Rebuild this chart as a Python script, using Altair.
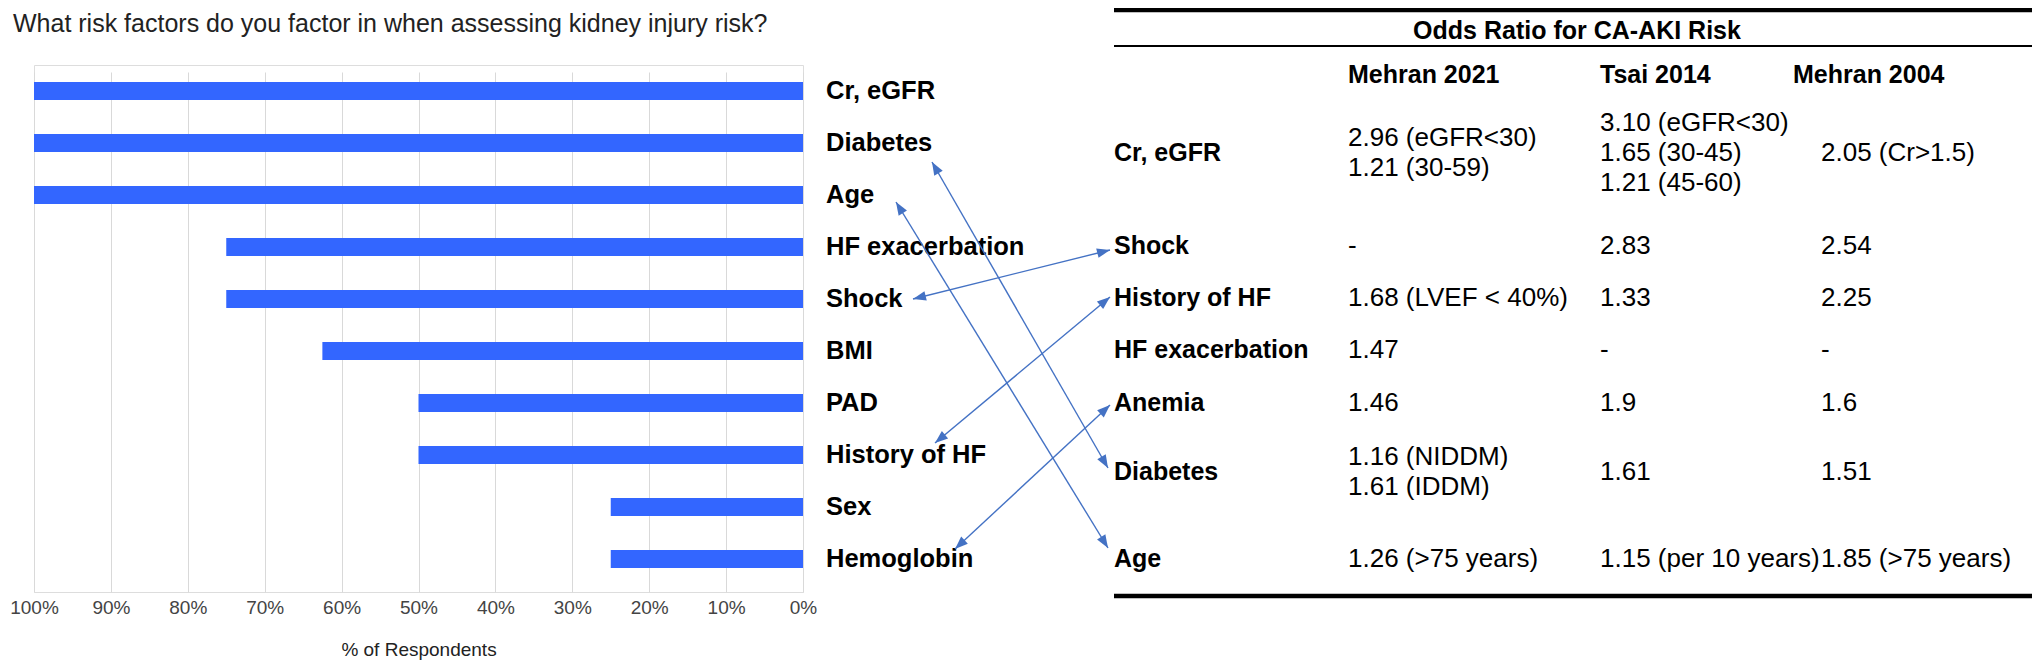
import math
import altair as alt
import pandas as pd

# ---------------- data ----------------
question = "What risk factors do you factor in when assessing kidney injury risk?"
factors = ["Cr, eGFR", "Diabetes", "Age", "HF exacerbation", "Shock", "BMI",
           "PAD", "History of HF", "Sex", "Hemoglobin"]
pct_respondents = [100, 100, 100, 75, 75, 62.5, 50, 50, 25, 25]
x_ticks = [0, 10, 20, 30, 40, 50, 60, 70, 80, 90, 100]
x_title = "% of Respondents"

table_title = "Odds Ratio for CA-AKI Risk"
studies = ["Mehran 2021", "Tsai 2014", "Mehran 2004"]
table_rows = ["Cr, eGFR", "Shock", "History of HF", "HF exacerbation", "Anemia", "Diabetes", "Age"]
mehran_2021 = ["2.96 (eGFR<30)\n1.21 (30-59)", "-", "1.68 (LVEF < 40%)", "1.47", "1.46",
               "1.16 (NIDDM)\n1.61 (IDDM)", "1.26 (>75 years)"]
tsai_2014 = ["3.10 (eGFR<30)\n1.65 (30-45)\n1.21 (45-60)", "2.83", "1.33", "-", "1.9",
             "1.61", "1.15 (per 10 years)"]
mehran_2004 = ["2.05 (Cr>1.5)", "2.54", "2.25", "-", "1.6", "1.51", "1.85 (>75 years)"]
# survey factor -> table row
links = [("Diabetes", "Diabetes"), ("Age", "Age"), ("Shock", "Shock"),
         ("History of HF", "History of HF"), ("Hemoglobin", "Anemia")]

# ---------------- layout (page pixels) ----------------
PAD_L, PAD_T = 26, 57
W, H = 769, 527
BAND_H = 520
TOTAL_W, TOTAL_H = 2024, 652
OX, OY = 8 + PAD_L, 8 + PAD_T
FONT = "Liberation Sans"
STEP = BAND_H / len(factors)


def cx(px):
    return px - OX


def cy(py):
    return py - OY


LABEL_X = 826
TBL_L, TBL_R = 1114, 2032
TBL_TITLE = (1577, 31)
HEADER_Y = 75
HEAD_X = [1348, 1600, 1793]
VAL_X = [1348, 1600, 1821]
ROW_Y = [153, 246, 298, 350, 403, 472, 559]
LINE_H = 30
TOP_LINE_Y, SUB_LINE_Y, BOT_LINE_Y = 10, 46, 596
# arrow anchors: bar side offset from label start / band centre, table side offset from row centre
BAR_ANCHOR = {"Diabetes": (106, 19), "Age": (70, 7), "Shock": (87, 0),
              "History of HF": (109, -12), "Hemoglobin": (129, -10)}
TBL_ANCHOR = {"Diabetes": (1108, -4), "Age": (1108, -11), "Shock": (1110, 4),
              "History of HF": (1110, -1), "Anemia": (1110, 2)}
ARROW_COLOR = "#4472c4"

# ---------------- bar chart ----------------
bars_df = pd.DataFrame({"factor": factors, "pct": pct_respondents})
yband = alt.Y("factor:N", sort=factors, axis=None,
              scale=alt.Scale(range=[0, BAND_H], paddingInner=0, paddingOuter=0))

bars = alt.Chart(bars_df).mark_bar(height=18, color="#3366ff").encode(
    x=alt.X("pct:Q",
            scale=alt.Scale(domain=[0, 100], reverse=True, nice=False),
            axis=alt.Axis(values=x_ticks, labelExpr="datum.value + '%'", grid=True,
                          gridColor="#d9d9d9", gridWidth=1, ticks=False, domain=False,
                          labelFlush=False, labelOverlap=False,
                          labelFont=FONT, labelFontSize=19, labelColor="#444",
                          labelPadding=6, title=x_title, titleFont=FONT,
                          titleFontSize=19, titleFontWeight="normal", titleColor="#222",
                          titlePadding=23)),
    y=yband,
)

labels = alt.Chart(bars_df).mark_text(align="left", baseline="middle", font=FONT,
                                      fontSize=25.5, fontWeight="bold", color="#000").encode(
    x=alt.value(cx(LABEL_X)),
    y=yband,
    text="factor:N",
)

XY = dict(x=alt.X("x:Q", scale=None, axis=None), y=alt.Y("y:Q", scale=None, axis=None))

# ---------------- texts (question + table) ----------------
question_df = pd.DataFrame({"x": [cx(13)], "y": [cy(24)], "text": [question]})
question_layer = alt.Chart(question_df).mark_text(
    align="left", baseline="middle", font=FONT, fontSize=25, color="#222").encode(
    text="text:N", **XY)

title_df = pd.DataFrame({"x": [cx(TBL_TITLE[0])], "y": [cy(TBL_TITLE[1])], "text": [table_title]})
title_layer = alt.Chart(title_df).mark_text(
    align="center", baseline="middle", font=FONT, fontSize=25, fontWeight="bold", color="#000").encode(
    text="text:N", **XY)

head_rows = [{"x": cx(x), "y": cy(HEADER_Y), "text": s} for s, x in zip(studies, HEAD_X)]
head_layer = alt.Chart(pd.DataFrame(head_rows)).mark_text(
    align="left", baseline="middle", font=FONT, fontSize=25, fontWeight="bold", color="#000").encode(
    text="text:N", **XY)

rowlab_rows = [{"x": cx(TBL_L), "y": cy(y), "text": r} for r, y in zip(table_rows, ROW_Y)]
rowlab_layer = alt.Chart(pd.DataFrame(rowlab_rows)).mark_text(
    align="left", baseline="middle", font=FONT, fontSize=25, fontWeight="bold", color="#000").encode(
    text="text:N", **XY)

cell_rows = []
for col_vals, x in zip([mehran_2021, tsai_2014, mehran_2004], VAL_X):
    for v, y in zip(col_vals, ROW_Y):
        n = v.count("\n") + 1
        cell_rows.append({"x": cx(x), "y": cy(y) - (n - 1) * LINE_H / 2, "text": v})
cells = alt.Chart(pd.DataFrame(cell_rows)).mark_text(
    align="left", baseline="middle", font=FONT, fontSize=26, color="#000",
    lineBreak="\n", lineHeight=LINE_H).encode(text="text:N", **XY)

rules_df = pd.DataFrame({
    "x": [cx(TBL_L)] * 3, "x2": [cx(TBL_R)] * 3,
    "y": [cy(TOP_LINE_Y), cy(SUB_LINE_Y), cy(BOT_LINE_Y)],
    "w": [4.5, 2, 4.5],
})
rules = alt.Chart(rules_df).mark_rule(color="#000").encode(
    x2="x2:Q",
    strokeWidth=alt.StrokeWidth("w:Q", scale=None, legend=None),
    **XY,
)

# ---------------- arrows ----------------
seg_rows, tip_rows = [], []
for fac, row in links:
    i = factors.index(fac)
    j = table_rows.index(row)
    bx = cx(LABEL_X) + BAR_ANCHOR[fac][0]
    by = STEP * (i + 0.5) + BAR_ANCHOR[fac][1]
    tx = cx(TBL_ANCHOR[row][0])
    ty = cy(ROW_Y[j]) + TBL_ANCHOR[row][1]
    seg_rows.append({"x": bx, "y": by, "x2": tx, "y2": ty})
    for (ax, ay), (ox, oy) in [((bx, by), (tx, ty)), ((tx, ty), (bx, by))]:
        ang = math.degrees(math.atan2(ax - ox, -(ay - oy))) % 360
        tip_rows.append({"x": ax, "y": ay, "angle": ang})

arrow_lines = alt.Chart(pd.DataFrame(seg_rows)).mark_rule(color=ARROW_COLOR, strokeWidth=1.4).encode(
    x2="x2:Q", y2="y2:Q", **XY)
arrow_heads = alt.Chart(pd.DataFrame(tip_rows)).mark_point(
    shape="M0,0 L-0.75,2 L0.75,2 Z", filled=True, opacity=1, color=ARROW_COLOR, size=169,
    strokeWidth=0).encode(
    angle=alt.Angle("angle:Q", scale=None), **XY)

chart = alt.layer(
    bars, labels, question_layer, rules, title_layer, head_layer, rowlab_layer, cells,
    arrow_lines, arrow_heads
).properties(
    width=W, height=H,
    padding={"left": PAD_L, "top": PAD_T, "right": TOTAL_W - PAD_L - W, "bottom": TOTAL_H - PAD_T - H},
    autosize=alt.AutoSizeParams(type="none"),
).configure_view(stroke="transparent").configure(font=FONT)

chart.save("out.html", embed_options={"renderer": "svg", "actions": False})
